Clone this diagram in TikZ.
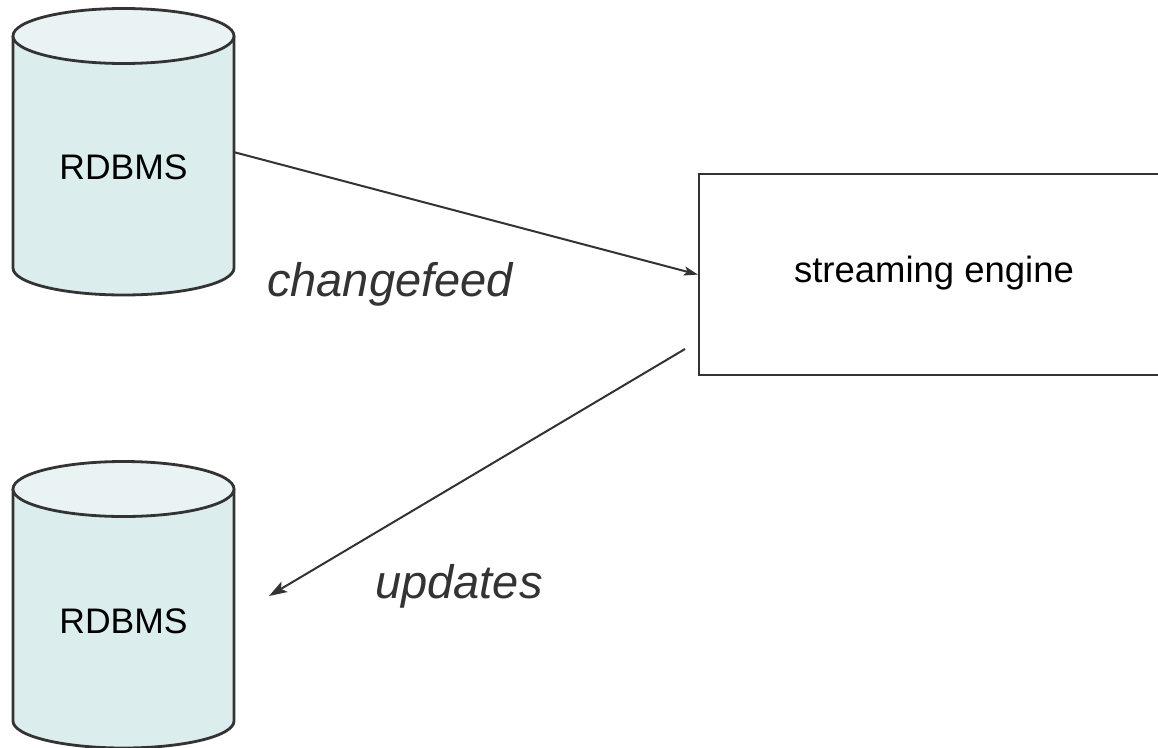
\documentclass[tikz,border=0pt]{standalone}
\usepackage{fontspec}
\setmainfont{Liberation Sans}
\usetikzlibrary{arrows.meta}
\definecolor{ink}{HTML}{333333}
\definecolor{cylbody}{HTML}{DCEDED}
\definecolor{cyltop}{HTML}{EAF3F4}
\tikzset{
  cyl/.style={draw=ink, line width=2.8pt},
  lbl/.style={text=black, font=\fontsize{35.5}{40}\selectfont},
  ital/.style={text=ink, font=\fontsize{47}{52}\selectfont\itshape},
  conn/.style={draw=ink, line width=2pt},
}
\newcommand{\dbcyl}[3]{% cx, top cy, bottom cy
  \fill[cylbody] (#1-110.5,#2) -- (#1-110.5,#3) arc[start angle=180, end angle=0, x radius=110.5, y radius=27] -- (#1+110.5,#2) -- cycle;
  \draw[cyl] (#1-110.5,#2) -- (#1-110.5,#3) arc[start angle=180, end angle=0, x radius=110.5, y radius=27] -- (#1+110.5,#2);
  \filldraw[cyl, fill=cyltop] (#1,#2) ellipse[x radius=110.5, y radius=27.5];
}
\begin{document}
\begin{tikzpicture}[x=1pt,y=-1pt]
\path[use as bounding box, clip] (0,0) rectangle (1158,747);
\fill[white] (0,0) rectangle (1158,747);

\dbcyl{123.5}{36}{268}
\dbcyl{123.5}{489}{721}
\node[lbl] (db1) at (123.5,167) {RDBMS};
\node[lbl] (db2) at (123.5,621) {RDBMS};

\node[draw=ink, line width=2.2pt, minimum width=470pt, minimum height=201pt, anchor=north west, inner sep=0pt] (engine) at (698,173) {};
\node[lbl, font=\fontsize{36.5}{40}\selectfont] (enginetext) at (934,273) {streaming engine};

\node[ital] (cf) at (390,284) {changefeed};
\node[ital] (up) at (459,586) {updates};

\coordinate (c1) at (233.5,152);
\coordinate (u0) at (685,349);
\coordinate (u1) at (269,596);
\draw[conn, -{Stealth[length=14pt, width=9pt, inset=3pt]}] (c1) -- (engine.west);
\draw[conn, -{Stealth[length=18pt, width=12pt, inset=4pt]}] (u0) -- (u1);
\end{tikzpicture}
\end{document}
